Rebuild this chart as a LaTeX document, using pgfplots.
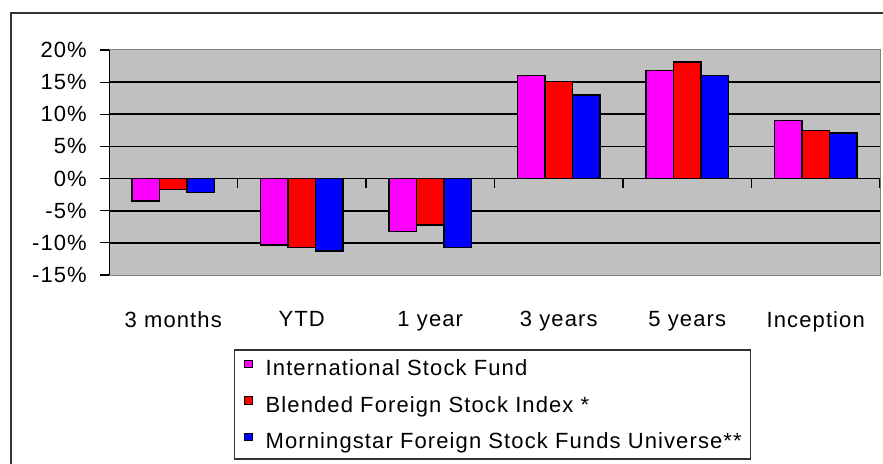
\documentclass[border=0pt]{standalone}
\usepackage{fontspec}
\setmainfont{Liberation Sans}[LetterSpace=5]
\usepackage{pgfplots}
\pgfplotsset{compat=1.18}
\usepackage{pgfplotstable}
\definecolor{plotbg}{HTML}{C0C0C0}
\definecolor{borderg}{HTML}{808080}
\definecolor{mag}{HTML}{FF00FF}
\definecolor{rd}{HTML}{FF0000}
\definecolor{bl}{HTML}{0000FF}
\pgfplotstableread{
x  isf    bfsi   mfs
0  -3.5   -1.7   -2.2
1  -10.3  -10.7  -11.25
2  -8.2   -7.2   -10.7
3  16.0   15.1   13.0
4  16.8   18.1   16.0
5  9.0    7.5    7.1
}\datatable
\begin{document}
\begin{tikzpicture}[x=1bp,y=1bp]
\begin{axis}[
  at={(109bp,189bp)}, anchor=south west,
  scale only axis, width=771bp, height=225bp,
  xmin=-0.5, xmax=5.5, ymin=-15, ymax=20,
  axis background/.style={fill=plotbg},
  axis line style={draw=borderg, line width=1bp},
  xtick={0,1,2,3,4,5},
  xticklabels={3 months,YTD,1 year,3 years,5 years,Inception},
  x tick style={draw=none},
  xticklabel style={anchor=north, inner sep=0pt, yshift=-27bp},
  ytick={-10,-5,0,5,10,15},
  yticklabels={-10\%,-5\%,0\%,5\%,10\%,15\%},
  extra y ticks={-15,20},
  extra y tick labels={-15\%,20\%},
  extra y tick style={grid=none},
  ytick pos=left,
  tick align=outside,
  major tick length=9bp,
  y tick style={black, line width=1.2bp},
  yticklabel style={anchor=east, inner sep=0pt, xshift=-13bp},
  tick label style={font=\fontsize{22bp}{26bp}\selectfont},
  ymajorgrids,
  grid style={black, line width=1.8bp},
  ybar, bar width=0.215,
  legend style={at={(0.1621,-0.3289)}, anchor=north west,
    draw=black!80, line width=1.5bp, fill=white,
    font=\fontsize{22bp}{26bp}\selectfont,
    inner xsep=9bp, inner ysep=10bp,
    nodes={inner sep=0pt, text height=16bp, text depth=0bp},
    row sep=20.5bp,
    /tikz/every odd column/.append style={column sep=13bp},
    legend cell align=left},
  legend image code/.code={\draw[#1, line width=1bp] (0bp,0bp) rectangle (8bp,7.5bp);},
]
\addplot[fill=mag, draw=black, line width=1.5bp, bar shift=-0.215] table[x=x,y=isf]{\datatable};
\addlegendentry{International Stock Fund}
\addplot[fill=rd, draw=black, line width=1.5bp, bar shift=0] table[x=x,y=bfsi]{\datatable};
\addlegendentry{Blended Foreign Stock Index *}
\addplot[fill=bl, draw=black, line width=1.5bp, bar shift=0.215] table[x=x,y=mfs]{\datatable};
\addlegendentry{Morningstar Foreign Stock Funds Universe**}
\draw[black, line width=1.5bp] (axis cs:-0.5,-15) -- (axis cs:-0.5,20);
\draw[black, line width=1.8bp] (axis cs:-0.5,0) -- (axis cs:5.5,0);
\pgfplotsinvokeforeach{-0.5,0.5,1.5,2.5,3.5,4.5,5.5}{
  \draw[black, line width=1.2bp] (axis cs:#1,0) -- ++(0bp,-9bp);
}
\end{axis}
\draw[black!80, line width=1.8bp] (11bp,-20bp) -- (11bp,451bp) -- (920bp,451bp);
\pgfresetboundingbox
\useasboundingbox (0,0) rectangle (883bp,464bp);
\end{tikzpicture}
\end{document}
